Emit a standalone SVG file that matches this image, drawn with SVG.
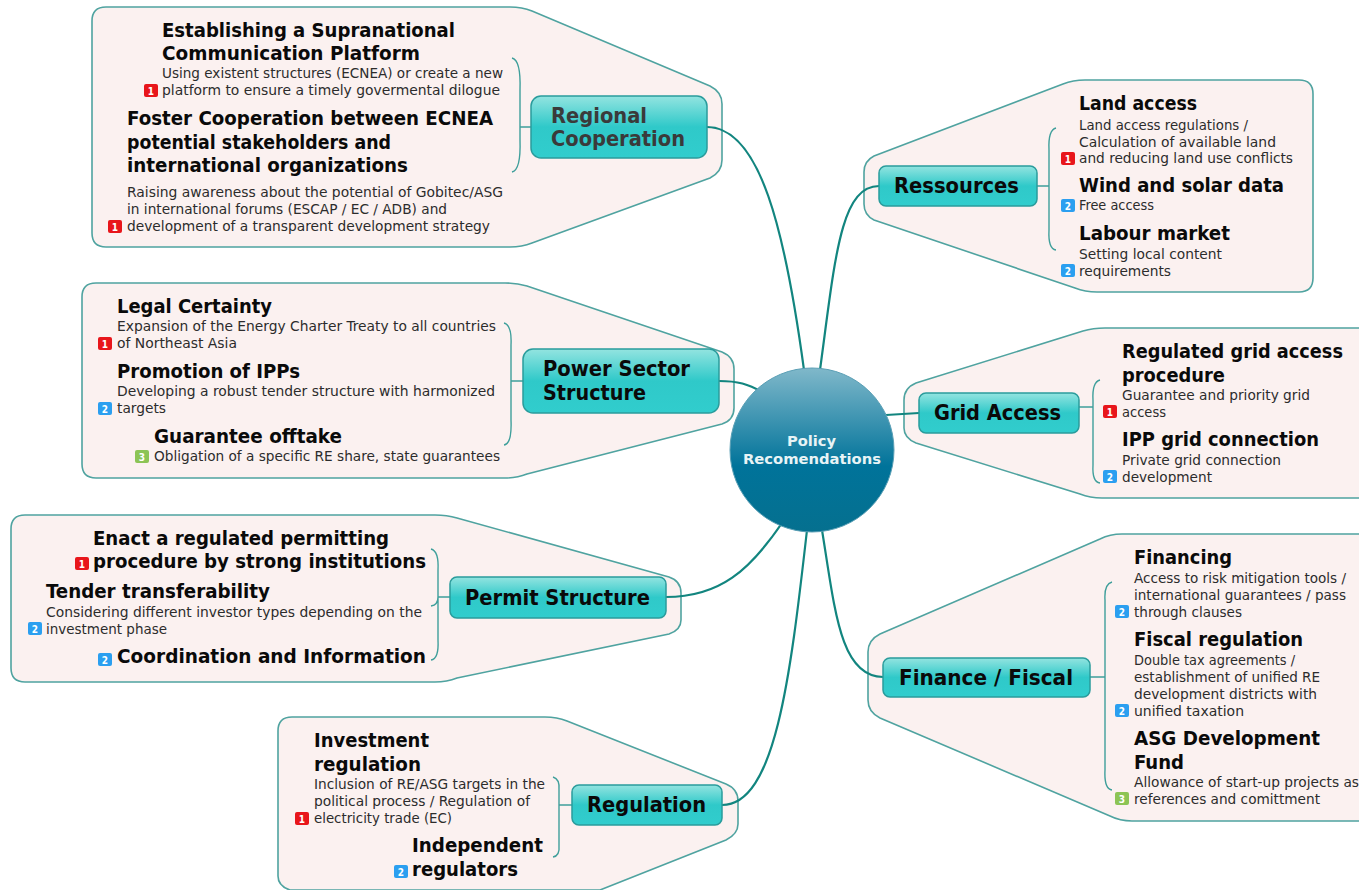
<svg xmlns="http://www.w3.org/2000/svg" width="1359" height="890" viewBox="0 0 1359 890">
<style>
text{font-family:"DejaVu Sans","Liberation Sans",sans-serif;font-stretch:condensed}
.b{fill:#fbf1f0;stroke:#4fa3a0;stroke-width:1.6}
.n{fill:url(#ng);stroke:#2a9c9c;stroke-width:1.5}
.c{fill:none;stroke:#12857f;stroke-width:2.2}
.k{fill:none;stroke:#3f9f9b;stroke-width:1.4}
.t{font-size:19.5px;font-weight:bold;fill:#0a0a0a}
.h{font-size:20px;font-weight:bold;fill:#0a0a0a}
.d{font-size:14px;fill:#2c2c2c}
.m{font-size:21px;font-weight:bold;fill:#0a0a0a}
.i{font-size:10px;font-weight:bold;fill:#fff;text-anchor:middle}
.r{fill:#e8161b}.u{fill:#2b9ff0}.g{fill:#8cc455}
</style>
<defs>
<linearGradient id="ng" x1="0" y1="0" x2="0" y2="1"><stop offset="0" stop-color="#93e4e0"/><stop offset=".5" stop-color="#2fc9c9"/><stop offset="1" stop-color="#31cdcd"/></linearGradient>
<linearGradient id="cg" x1="0" y1="0" x2="0" y2="1"><stop offset="0" stop-color="#80b8ca"/><stop offset=".6" stop-color="#00739a"/><stop offset="1" stop-color="#05708f"/></linearGradient>
</defs>
<rect width="1359" height="890" fill="#fff"/>
<g id="boundaries">
<path class="b" d="M106 7H510Q522 7 532 11L710 86Q722 92 722 104V160Q722 172 710 178L532 243Q522 247 510 247H106Q92 247 92 233V21Q92 7 106 7Z"/>
<path class="b" d="M96 283H505Q517 283 527 286L722 352Q734 357 734 369V408Q734 420 722 424L527 474Q517 478 505 478H96Q82 478 82 464V297Q82 283 96 283Z"/>
<path class="b" d="M25 515H435Q447 515 457 518L669 577Q681 581 681 593V620Q681 630 669 634L457 678Q447 682 435 682H25Q11 682 11 668V529Q11 515 25 515Z"/>
<path class="b" d="M292 717H545Q557 717 567 721L726 784Q738 789 738 801V824Q738 834 726 840L600 890H290Q278 886 278 876V731Q278 717 292 717Z"/>
<path class="b" d="M1299 80H1085Q1073 80 1063 84L874 156Q864 161 864 172V204Q864 215 874 220L1075 288Q1085 292 1097 292H1299Q1313 292 1313 278V94Q1313 80 1299 80Z"/>
<path class="b" d="M1359 328H1105Q1093 328 1083 331L916 383Q904 388 904 400V428Q904 438 916 443L1080 494Q1090 498 1102 498H1359"/>
<path class="b" d="M1359 534H1122Q1110 534 1100 539L880 634Q868 640 868 652V700Q868 712 880 718L1110 816Q1120 821 1132 821H1359"/>
</g>
<g id="connectors">
<path class="c" d="M707 127C760 127 785 230 804 370"/>
<path class="c" d="M879 186C840 186 835 260 820 370"/>
<path class="c" d="M719 381C738 381 748 384 762 392"/>
<path class="c" d="M919 413L886 415"/>
<path class="c" d="M666 597C720 597 750 570 782 523"/>
<path class="c" d="M883 677C840 677 835 610 822 530"/>
<path class="c" d="M722 805C775 805 790 680 807 530"/>
<path class="k" d="M512 58Q521 60 520 90V140Q521 170 512 172M520 127H531"/>
<path class="k" d="M504 323Q512 325 511 345V420Q512 444 504 445M511 381H523"/>
<path class="k" d="M431 549Q439 551 438 570V640Q439 659 431 660M438 597H450M431 606Q438 605 438 597"/>
<path class="k" d="M553 777Q560 779 559 790V845Q560 856 553 857M559 805H572"/>
<path class="k" d="M1056 128Q1048 130 1049 150V230Q1048 249 1056 250M1049 186H1037"/>
<path class="k" d="M1100 380Q1092 382 1093 400V465Q1092 482 1100 483M1093 407H1079"/>
<path class="k" d="M1112 582Q1104 584 1105 600V770Q1104 789 1112 790M1105 677H1090"/>
</g>
<g id="center">
<circle cx="812" cy="450" r="82" fill="url(#cg)" stroke="#5a9fb5" stroke-width="1"/>
<text x="787" y="446" font-size="14" font-weight="bold" fill="#e8f4f6" textLength="49" lengthAdjust="spacingAndGlyphs">Policy</text>
<text x="743" y="464" font-size="14" font-weight="bold" fill="#e8f4f6" textLength="138" lengthAdjust="spacingAndGlyphs">Recomendations</text>
</g>
<g id="regional-cooperation">
<rect class="n" x="531" y="96" width="176" height="62" rx="10"/>
<text x="551" y="123" class="m" fill="#3a3a3a" style="fill:#3a3a3a" textLength="96" lengthAdjust="spacingAndGlyphs">Regional</text>
<text x="551" y="146" class="m" style="fill:#3a3a3a" textLength="134" lengthAdjust="spacingAndGlyphs">Cooperation</text>
</g>
<g id="supranational">
<text x="162" y="37" class="t" textLength="293" lengthAdjust="spacingAndGlyphs">Establishing a Supranational</text>
<text x="162" y="60" class="t" textLength="258" lengthAdjust="spacingAndGlyphs">Communication Platform</text>
<text x="162" y="78" class="d" textLength="341" lengthAdjust="spacingAndGlyphs">Using existent structures (ECNEA) or create a new</text>
<text x="162" y="95" class="d" textLength="338" lengthAdjust="spacingAndGlyphs">platform to ensure a timely govermental dilogue</text>
<rect class="r" x="144" y="84" width="14" height="13" rx="2"/><text x="151" y="94.500" class="i">1</text>
</g>
<g id="foster-cooperation">
<text x="127" y="125" class="t" textLength="366" lengthAdjust="spacingAndGlyphs">Foster Cooperation between ECNEA</text>
<text x="127" y="149" class="t" textLength="264" lengthAdjust="spacingAndGlyphs">potential stakeholders and</text>
<text x="127" y="172" class="t" textLength="281" lengthAdjust="spacingAndGlyphs">international organizations</text>
<text x="127" y="197" class="d" textLength="376" lengthAdjust="spacingAndGlyphs">Raising awareness about the potential of Gobitec/ASG</text>
<text x="127" y="214" class="d" textLength="320" lengthAdjust="spacingAndGlyphs">in international forums (ESCAP / EC / ADB) and</text>
<text x="127" y="231" class="d" textLength="363" lengthAdjust="spacingAndGlyphs">development of a transparent development strategy</text>
<rect class="r" x="108" y="220" width="14" height="13" rx="2"/><text x="115" y="230.500" class="i">1</text>
</g>
<g id="power-sector">
<rect class="n" x="523" y="349" width="196" height="64" rx="10"/>
<text x="543" y="376" class="m" textLength="147" lengthAdjust="spacingAndGlyphs">Power Sector</text>
<text x="543" y="400" class="m" textLength="103" lengthAdjust="spacingAndGlyphs">Structure</text>
</g>
<g id="legal-certainty">
<text x="117" y="313" class="t" textLength="155" lengthAdjust="spacingAndGlyphs">Legal Certainty</text>
<text x="117" y="331" class="d" textLength="379" lengthAdjust="spacingAndGlyphs">Expansion of the Energy Charter Treaty to all countries</text>
<text x="117" y="348" class="d" textLength="120" lengthAdjust="spacingAndGlyphs">of Northeast Asia</text>
<rect class="r" x="98" y="337" width="14" height="13" rx="2"/><text x="105" y="347.500" class="i">1</text>
</g>
<g id="promotion-ipps">
<text x="117" y="378" class="t" textLength="183" lengthAdjust="spacingAndGlyphs">Promotion of IPPs</text>
<text x="117" y="396" class="d" textLength="378" lengthAdjust="spacingAndGlyphs">Developing a robust tender structure with harmonized</text>
<text x="117" y="413" class="d" textLength="49" lengthAdjust="spacingAndGlyphs">targets</text>
<rect class="u" x="98" y="402" width="14" height="13" rx="2"/><text x="105" y="412.500" class="i">2</text>
</g>
<g id="guarantee-offtake">
<text x="154" y="443" class="t" textLength="188" lengthAdjust="spacingAndGlyphs">Guarantee offtake</text>
<text x="154" y="461" class="d" textLength="346" lengthAdjust="spacingAndGlyphs">Obligation of a specific RE share, state guarantees</text>
<rect class="g" x="135" y="450" width="14" height="13" rx="2"/><text x="142" y="460.500" class="i">3</text>
</g>
<g id="permit-structure">
<rect class="n" x="450" y="577" width="216" height="41" rx="7"/>
<text x="465" y="605" class="m" textLength="185" lengthAdjust="spacingAndGlyphs">Permit Structure</text>
</g>
<g id="regulated-permitting">
<text x="93" y="545" class="t" textLength="296" lengthAdjust="spacingAndGlyphs">Enact a regulated permitting</text>
<text x="93" y="568" class="t" textLength="333" lengthAdjust="spacingAndGlyphs">procedure by strong institutions</text>
<rect class="r" x="75" y="557" width="14" height="13" rx="2"/><text x="82" y="567.500" class="i">1</text>
</g>
<g id="tender-transferability">
<text x="46" y="598" class="t" textLength="224" lengthAdjust="spacingAndGlyphs">Tender transferability</text>
<text x="46" y="617" class="d" textLength="376" lengthAdjust="spacingAndGlyphs">Considering different investor types depending on the</text>
<text x="46" y="634" class="d" textLength="121" lengthAdjust="spacingAndGlyphs">investment phase</text>
<rect class="u" x="28" y="622" width="14" height="13" rx="2"/><text x="35" y="632.500" class="i">2</text>
</g>
<g id="coordination">
<text x="117" y="663" class="t" textLength="309" lengthAdjust="spacingAndGlyphs">Coordination and Information</text>
<rect class="u" x="98" y="653" width="14" height="13" rx="2"/><text x="105" y="663.500" class="i">2</text>
</g>
<g id="regulation">
<rect class="n" x="572" y="785" width="150" height="40" rx="7"/>
<text x="587" y="812" class="m" textLength="119" lengthAdjust="spacingAndGlyphs">Regulation</text>
</g>
<g id="investment-regulation">
<text x="314" y="747" class="t" textLength="115" lengthAdjust="spacingAndGlyphs">Investment</text>
<text x="314" y="771" class="t" textLength="107" lengthAdjust="spacingAndGlyphs">regulation</text>
<text x="314" y="789" class="d" textLength="231" lengthAdjust="spacingAndGlyphs">Inclusion of RE/ASG targets in the</text>
<text x="314" y="806" class="d" textLength="216" lengthAdjust="spacingAndGlyphs">political process / Regulation of</text>
<text x="314" y="823" class="d" textLength="138" lengthAdjust="spacingAndGlyphs">electricity trade (EC)</text>
<rect class="r" x="295" y="812" width="14" height="13" rx="2"/><text x="302" y="822.500" class="i">1</text>
</g>
<g id="independent-regulators">
<text x="412" y="852" class="t" textLength="131" lengthAdjust="spacingAndGlyphs">Independent</text>
<text x="412" y="876" class="t" textLength="106" lengthAdjust="spacingAndGlyphs">regulators</text>
<rect class="u" x="394" y="865" width="14" height="13" rx="2"/><text x="401" y="875.500" class="i">2</text>
</g>
<g id="ressources">
<rect class="n" x="879" y="166" width="158" height="40" rx="7"/>
<text x="894" y="193" class="m" textLength="125" lengthAdjust="spacingAndGlyphs">Ressources</text>
</g>
<g id="land-access">
<text x="1079" y="110" class="t" textLength="118" lengthAdjust="spacingAndGlyphs">Land access</text>
<text x="1079" y="130" class="d" textLength="169" lengthAdjust="spacingAndGlyphs">Land access regulations /</text>
<text x="1079" y="147" class="d" textLength="197" lengthAdjust="spacingAndGlyphs">Calculation of available land</text>
<text x="1079" y="163" class="d" textLength="214" lengthAdjust="spacingAndGlyphs">and reducing land use conflicts</text>
<rect class="r" x="1061" y="152" width="14" height="13" rx="2"/><text x="1068" y="162.500" class="i">1</text>
</g>
<g id="wind-solar">
<text x="1079" y="192" class="t" textLength="205" lengthAdjust="spacingAndGlyphs">Wind and solar data</text>
<text x="1079" y="210" class="d" textLength="75" lengthAdjust="spacingAndGlyphs">Free access</text>
<rect class="u" x="1061" y="199" width="14" height="13" rx="2"/><text x="1068" y="209.500" class="i">2</text>
</g>
<g id="labour-market">
<text x="1079" y="240" class="t" textLength="151" lengthAdjust="spacingAndGlyphs">Labour market</text>
<text x="1079" y="259" class="d" textLength="143" lengthAdjust="spacingAndGlyphs">Setting local content</text>
<text x="1079" y="276" class="d" textLength="92" lengthAdjust="spacingAndGlyphs">requirements</text>
<rect class="u" x="1061" y="264" width="14" height="13" rx="2"/><text x="1068" y="274.500" class="i">2</text>
</g>
<g id="grid-access">
<rect class="n" x="919" y="393" width="160" height="40" rx="7"/>
<text x="934" y="420" class="m" textLength="127" lengthAdjust="spacingAndGlyphs">Grid Access</text>
</g>
<g id="regulated-grid">
<text x="1122" y="358" class="t" textLength="221" lengthAdjust="spacingAndGlyphs">Regulated grid access</text>
<text x="1122" y="382" class="t" textLength="103" lengthAdjust="spacingAndGlyphs">procedure</text>
<text x="1122" y="400" class="d" textLength="188" lengthAdjust="spacingAndGlyphs">Guarantee and priority grid</text>
<text x="1122" y="417" class="d" textLength="44" lengthAdjust="spacingAndGlyphs">access</text>
<rect class="r" x="1103" y="405" width="14" height="13" rx="2"/><text x="1110" y="415.500" class="i">1</text>
</g>
<g id="ipp-grid">
<text x="1122" y="446" class="t" textLength="197" lengthAdjust="spacingAndGlyphs">IPP grid connection</text>
<text x="1122" y="465" class="d" textLength="159" lengthAdjust="spacingAndGlyphs">Private grid connection</text>
<text x="1122" y="482" class="d" textLength="90" lengthAdjust="spacingAndGlyphs">development</text>
<rect class="u" x="1103" y="470" width="14" height="13" rx="2"/><text x="1110" y="480.500" class="i">2</text>
</g>
<g id="finance-fiscal">
<rect class="n" x="883" y="658" width="207" height="39" rx="7"/>
<text x="899" y="685" class="m" textLength="174" lengthAdjust="spacingAndGlyphs">Finance / Fiscal</text>
</g>
<g id="financing">
<text x="1134" y="564" class="t" textLength="98" lengthAdjust="spacingAndGlyphs">Financing</text>
<text x="1134" y="583" class="d" textLength="212" lengthAdjust="spacingAndGlyphs">Access to risk mitigation tools /</text>
<text x="1134" y="600" class="d" textLength="212" lengthAdjust="spacingAndGlyphs">international guarantees / pass</text>
<text x="1134" y="617" class="d" textLength="108" lengthAdjust="spacingAndGlyphs">through clauses</text>
<rect class="u" x="1115" y="605" width="14" height="13" rx="2"/><text x="1122" y="615.500" class="i">2</text>
</g>
<g id="fiscal-regulation">
<text x="1134" y="646" class="t" textLength="169" lengthAdjust="spacingAndGlyphs">Fiscal regulation</text>
<text x="1134" y="665" class="d" textLength="161" lengthAdjust="spacingAndGlyphs">Double tax agreements /</text>
<text x="1134" y="682" class="d" textLength="186" lengthAdjust="spacingAndGlyphs">establishment of unified RE</text>
<text x="1134" y="699" class="d" textLength="183" lengthAdjust="spacingAndGlyphs">development districts with</text>
<text x="1134" y="716" class="d" textLength="110" lengthAdjust="spacingAndGlyphs">unified taxation</text>
<rect class="u" x="1115" y="704" width="14" height="13" rx="2"/><text x="1122" y="714.500" class="i">2</text>
</g>
<g id="asg-fund">
<text x="1134" y="745" class="t" textLength="186" lengthAdjust="spacingAndGlyphs">ASG Development</text>
<text x="1134" y="769" class="t" textLength="50" lengthAdjust="spacingAndGlyphs">Fund</text>
<text x="1134" y="787" class="d" textLength="225" lengthAdjust="spacingAndGlyphs">Allowance of start-up projects as</text>
<text x="1134" y="804" class="d" textLength="186" lengthAdjust="spacingAndGlyphs">references and comittment</text>
<rect class="g" x="1115" y="792" width="14" height="13" rx="2"/><text x="1122" y="802.500" class="i">3</text>
</g>
</svg>
